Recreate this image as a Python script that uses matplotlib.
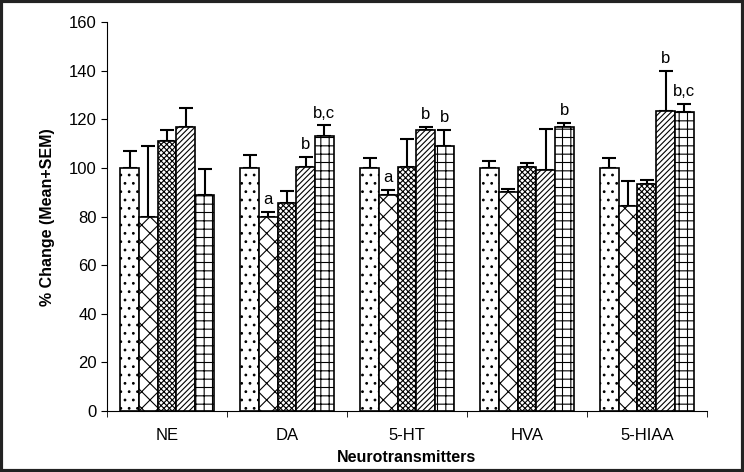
import numpy as np
import matplotlib.pyplot as plt

plt.rcParams['font.family'] = ['Liberation Sans', 'DejaVu Sans']
plt.rcParams['hatch.linewidth'] = 0.8

groups = ['NE', 'DA', '5-HT', 'HVA', '5-HIAA']

# mean values for the five treatment bars in each group
means = [
    [100, 80, 111, 117, 89],      # NE
    [100, 80, 85.5, 100.5, 113],  # DA
    [100, 89, 100.5, 115.5, 109], # 5-HT
    [100, 90, 100.5, 99, 117],    # HVA
    [100, 84.5, 93.5, 123.5, 123] # 5-HIAA
]
sems = [
    [7, 29, 4.5, 7.5, 10.5],
    [5.5, 2, 5, 4, 4.5],
    [4, 2, 11.5, 1.5, 6.5],
    [3, 1.5, 1.5, 17, 1.5],
    [4, 10, 1.5, 16.5, 3.5],
]
# significance letters: (group, bar, text)
marks = [
    (1, 1, 'a'), (1, 3, 'b'), (1, 4, 'b,c'),
    (2, 1, 'a'), (2, 3, 'b'), (2, 4, 'b'),
    (3, 4, 'b'),
    (4, 3, 'b'), (4, 4, 'b,c'),
]

hatches = ['..', 'xx', 'xxxxxx', '//////', '++']

means = np.array(means)
sems = np.array(sems)

fig = plt.figure(figsize=(7.44, 4.72), dpi=100)
ax = fig.add_axes([0.144, 0.129, 0.806, 0.824])

x = np.arange(len(groups))
w = 0.156
for i in range(5):
    pos = x + (i - 2) * w
    ax.bar(pos, means[:, i], w, color='white', edgecolor='black',
           linewidth=1.2, hatch=hatches[i], zorder=2)
    ax.errorbar(pos, means[:, i], yerr=[np.zeros(len(groups)), sems[:, i]],
                fmt='none', ecolor='black', elinewidth=1.5, capsize=5,
                capthick=1.5, zorder=1)

for g, b, txt in marks:
    top = means[g, b] + sems[g, b]
    ax.text(x[g] + (b - 2) * w, top + 2, txt, ha='center', va='bottom',
            fontsize=12)

ax.set_xlim(-0.5, 4.5)
ax.set_ylim(0, 160)
ax.set_yticks(np.arange(0, 161, 20))
ax.set_xticks(x)
ax.set_xticklabels(groups, fontsize=12)
ax.set_xticks(np.arange(-0.5, 4.6, 1), minor=True)
ax.tick_params(axis='x', which='major', length=0, pad=12)
ax.tick_params(axis='x', which='minor', length=4, direction='out')
ax.tick_params(axis='y', labelsize=12, length=4)
ax.spines['top'].set_visible(False)
ax.spines['right'].set_visible(False)
ax.set_xlabel('Neurotransmitters', fontsize=11.5, fontweight='bold', labelpad=5)
ax.set_ylabel('% Change (Mean+SEM)', fontsize=11.5, fontweight='bold', labelpad=10)

# dark frame around the whole picture
fig.patches.append(plt.Rectangle((0.002, 0.003), 0.996, 0.994, transform=fig.transFigure,
                                 fill=False, edgecolor='#222222', linewidth=3))

fig.savefig('out.png', dpi=100)
